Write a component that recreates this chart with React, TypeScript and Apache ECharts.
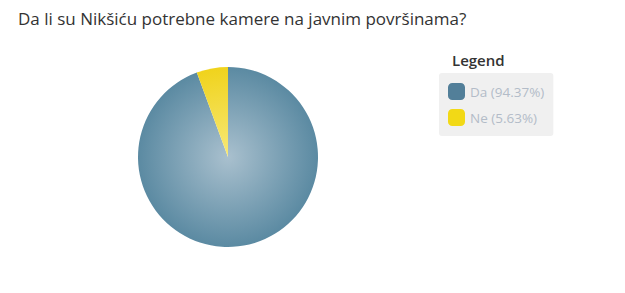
import React, { useEffect, useRef } from "react";
import * as echarts from "echarts";

const titleText = "Da li su Nikšiću potrebne kamere na javnim površinama?";
const categories = ["Da", "Ne"];
const values = [94.37, 5.63];
const edgeColors = ["#5b8aa2", "#f0d31c"];
const centerColors = ["#a9c0ce", "#f7e878"];
const markerColors = ["#527f99", "#f2d916"];

export default function App() {
  const ref = useRef<HTMLDivElement>(null);
  useEffect(() => {
    const chart = echarts.init(ref.current!, null, { renderer: "svg" });
    const cx = 220, cy = 149, r = 90;
    const data = categories.map((name, i) => ({
      name,
      value: values[i],
      itemStyle: {
        color: new echarts.graphic.RadialGradient(cx, cy, r, [
          { offset: 0, color: centerColors[i] },
          { offset: 1, color: edgeColors[i] },
        ], true),
      },
    }));
    chart.setOption({
      animation: false,
      title: {
        text: titleText,
        left: 10,
        top: 2,
        padding: 0,
        textStyle: { fontFamily: "Open Sans", fontSize: 17, fontWeight: "normal", color: "#333" },
      },
      graphic: [
        {
          type: "text",
          left: 444,
          top: 44,
          style: { text: "Legend", fontFamily: "Open Sans", fontSize: 15, fontWeight: 600, fill: "#333" },
        },
      ],
      legend: {
        orient: "vertical",
        left: 431,
        top: 65,
        backgroundColor: "#f0f0f0",
        borderRadius: 3,
        padding: [10, 9, 10, 9],
        itemWidth: 17,
        itemHeight: 17,
        itemGap: 9,
        itemTextGap: 7,
        icon: "roundRect",
        selectedMode: false,
        formatter: (name: string) => {
          const i = categories.indexOf(name);
          return `${name} (${values[i].toFixed(2)}%)`;
        },
        textStyle: { fontFamily: "Open Sans", fontSize: 13.5, color: "#b3bcc8" },
        data: categories.map((name, i) => ({ name, itemStyle: { color: markerColors[i] } })),
      },
      series: [
        {
          type: "pie",
          center: [cx, cy],
          radius: r,
          startAngle: 90,
          clockwise: true,
          label: { show: false },
          labelLine: { show: false },
          emphasis: { disabled: true },
          itemStyle: { borderWidth: 0 },
          data,
        },
      ],
    });
    return () => chart.dispose();
  }, []);
  return <div ref={ref} style={{ width: 609, height: 277 }} />;
}
